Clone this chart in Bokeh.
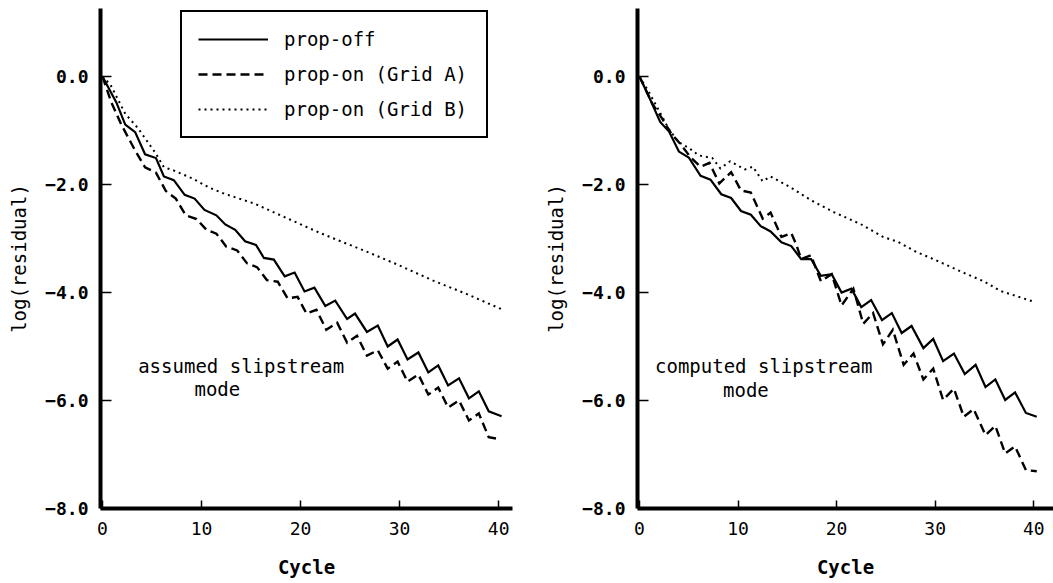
from bokeh.plotting import figure
from bokeh.layouts import row
from bokeh.models import (Range1d, FixedTicker, CustomJSTickFormatter, Legend,
                          LegendItem, Label)
from bokeh.embed import file_html
from bokeh.resources import INLINE

MONO = "DejaVu Sans Mono"

x_ticks = [0, 10, 20, 30, 40]
y_ticks = [-8, -6, -4, -2, 0]
series_labels = ["prop-off", "prop-on (Grid A)", "prop-on (Grid B)"]
panel_notes = [("assumed slipstream", "mode"), ("computed slipstream", "mode")]

# ---- left panel: assumed slipstream mode ----
left_off_cycle = [0, 1.4, 2.3, 3.3, 4.3, 5.4, 6.2, 7.2, 8.3, 9.3, 10.3, 11.5, 12.4, 13.4,
                  14.4, 15.5, 16.3, 17.3, 18.4, 19.4, 20.4, 21.4, 22.5, 23.5, 24.7, 25.5,
                  26.7, 27.8, 28.8, 29.8, 30.8, 31.9, 32.9, 33.9, 34.9, 36.0, 37.0, 38.0,
                  39.0, 40.3]
left_off_value = [0, -0.48, -0.89, -1.03, -1.44, -1.51, -1.85, -1.92, -2.19, -2.26, -2.47,
                  -2.57, -2.74, -2.84, -3.05, -3.12, -3.36, -3.39, -3.70, -3.63, -3.98,
                  -3.91, -4.25, -4.15, -4.49, -4.39, -4.73, -4.61, -5.00, -4.87, -5.24,
                  -5.11, -5.48, -5.35, -5.72, -5.59, -5.96, -5.83, -6.20, -6.29]

left_gridA_cycle = [0, 0.9, 1.9, 3.3, 4.3, 5.4, 6.4, 7.4, 8.4, 9.5, 10.5, 11.5, 12.5, 13.6,
                    14.6, 15.6, 16.6, 17.7, 18.7, 19.7, 20.6, 21.6, 22.6, 23.7, 24.7, 25.7,
                    26.7, 27.8, 28.8, 29.8, 30.8, 31.9, 32.9, 33.9, 34.9, 36.0, 37.0, 38.0,
                    39.0, 40.2]
left_gridA_value = [0, -0.48, -0.89, -1.37, -1.68, -1.78, -2.12, -2.26, -2.57, -2.64, -2.84,
                    -2.91, -3.15, -3.22, -3.46, -3.53, -3.77, -3.80, -4.11, -4.08, -4.39,
                    -4.32, -4.69, -4.56, -4.93, -4.80, -5.17, -5.07, -5.41, -5.28, -5.65,
                    -5.52, -5.89, -5.76, -6.13, -6.00, -6.37, -6.24, -6.68, -6.72]

left_gridB_cycle = [0, 0.8, 2.3, 3.6, 5.4, 6.2, 7.2, 9.1, 10.7, 12.3, 15.3, 18.7, 22.0,
                    26.9, 30.0, 33.4, 36.8, 40.3]
left_gridB_value = [0, -0.15, -0.69, -0.96, -1.43, -1.68, -1.74, -1.89, -2.05, -2.17,
                    -2.35, -2.63, -2.90, -3.26, -3.50, -3.78, -4.03, -4.31]

# ---- right panel: computed slipstream mode ----
right_off_cycle = [0, 1.1, 2.1, 3.0, 4.0, 5.0, 6.2, 7.2, 8.3, 9.3, 10.3, 11.3, 12.3, 13.3,
                   14.4, 15.4, 16.4, 17.4, 18.4, 19.5, 20.5, 21.5, 22.5, 23.5, 24.6, 25.6,
                   26.6, 27.6, 28.8, 29.8, 30.8, 31.9, 33.0, 34.1, 35.1, 36.1, 37.1, 38.1,
                   39.2, 40.3]
right_off_value = [0, -0.43, -0.84, -1.02, -1.39, -1.50, -1.84, -1.91, -2.18, -2.25, -2.49,
                   -2.56, -2.77, -2.87, -3.07, -3.14, -3.38, -3.38, -3.69, -3.66, -4.00,
                   -3.93, -4.27, -4.14, -4.51, -4.38, -4.75, -4.62, -5.03, -4.86, -5.27,
                   -5.13, -5.51, -5.34, -5.75, -5.61, -5.99, -5.85, -6.23, -6.30]

right_gridA_cycle = [0, 1.3, 2.3, 3.2, 4.2, 5.2, 6.2, 7.1, 8.1, 9.3, 10.3, 11.3, 12.5, 13.3,
                     14.4, 15.4, 15.9, 16.4, 17.4, 18.4, 19.5, 20.5, 21.7, 22.7, 23.7, 24.7,
                     25.7, 26.8, 27.8, 28.8, 29.8, 30.8, 31.9, 32.9, 33.9, 35.1, 36.1, 37.1,
                     38.1, 39.2, 40.3]
right_gridA_value = [0, -0.50, -0.78, -1.05, -1.26, -1.50, -1.67, -1.60, -1.98, -1.77, -2.11,
                     -2.15, -2.63, -2.52, -2.97, -2.90, -3.11, -3.38, -3.31, -3.79, -3.66,
                     -4.24, -3.93, -4.58, -4.38, -4.96, -4.69, -5.34, -5.13, -5.61, -5.41,
                     -5.99, -5.78, -6.30, -6.16, -6.64, -6.47, -6.98, -6.85, -7.29, -7.31]

right_gridB_cycle = [0, 1.0, 2.0, 3.0, 4.0, 5.0, 6.0, 7.4, 8.2, 9.2, 10.7, 11.5, 12.5, 13.3,
                     15.3, 17.4, 19.7, 22.4, 24.7, 26.2, 28.1, 29.8, 31.5, 33.2, 34.9, 36.6,
                     38.3, 40.0]
right_gridB_value = [0, -0.30, -0.64, -0.98, -1.22, -1.32, -1.46, -1.51, -1.70, -1.57, -1.72,
                     -1.67, -1.94, -1.85, -2.05, -2.29, -2.51, -2.73, -2.97, -3.06, -3.25,
                     -3.38, -3.52, -3.66, -3.79, -3.97, -4.07, -4.17]

note_positions = [((14.0, -5.37), (11.6, -5.78)), ((12.6, -5.37), (10.8, -5.80))]

STYLES = [dict(line_width=2.2, line_dash="solid"),
          dict(line_width=2.4, line_dash="9 5"),
          dict(line_width=2.0, line_dash="2 4")]

ytick_fmt = CustomJSTickFormatter(code="""
    return tick === 0 ? "0.0" : "\u2212" + Math.abs(tick).toFixed(1);
""")


def make_panel(width, b_left, b_right, x_end, series, notes, note_pos):
    p = figure(width=width, height=583, x_range=Range1d(-0.2, x_end),
               y_range=Range1d(-8, 1.26), output_backend="svg", toolbar_location=None,
               min_border_left=b_left, min_border_right=b_right, min_border_top=8,
               min_border_bottom=75)
    p.outline_line_color = None
    p.grid.visible = False
    p.background_fill_color = "white"
    p.border_fill_color = "white"

    xa = p.xaxis[0]
    xa.ticker = FixedTicker(ticks=x_ticks)
    xa.axis_line_width = 4
    xa.axis_line_color = "black"
    xa.major_tick_in = 8
    xa.major_tick_out = 0
    xa.major_tick_line_width = 1.5
    xa.major_tick_line_color = "black"
    xa.minor_tick_line_color = None
    xa.major_label_text_font = MONO
    xa.major_label_text_font_size = "18px"
    xa.major_label_text_color = "black"
    xa.major_label_standoff = 13
    xa.axis_label = "Cycle"
    xa.axis_label_text_font = MONO
    xa.axis_label_text_font_size = "19px"
    xa.axis_label_text_font_style = "bold"
    xa.axis_label_text_color = "black"
    xa.axis_label_standoff = 18

    ya = p.yaxis[0]
    ya.ticker = FixedTicker(ticks=y_ticks)
    ya.formatter = ytick_fmt
    ya.axis_line_width = 4
    ya.axis_line_color = "black"
    ya.major_tick_in = 11
    ya.major_tick_out = 0
    ya.major_tick_line_width = 1.5
    ya.major_tick_line_color = "black"
    ya.minor_tick_line_color = None
    ya.major_label_text_font = MONO
    ya.major_label_text_font_size = "18px"
    ya.major_label_text_font_style = "bold"
    ya.major_label_text_color = "black"
    ya.major_label_standoff = 12
    ya.axis_label = "log(residual)"
    ya.axis_label_text_font = MONO
    ya.axis_label_text_font_size = "19px"
    ya.axis_label_text_font_style = "normal"
    ya.axis_label_text_color = "black"
    ya.axis_label_standoff = 12

    renderers = []
    for (cx, cy), st in zip(series, STYLES):
        r = p.line(cx, cy, line_color="black", line_join="miter", **st)
        renderers.append(r)

    for txt, (lx, ly) in zip(notes, note_pos):
        p.add_layout(Label(x=lx, y=ly, text=txt, text_font=MONO, text_font_size="19px",
                           text_align="center", text_baseline="middle", text_color="black"))
    return p, renderers


p1, rs = make_panel(538, 100, 26, 41.4,
                    [(left_off_cycle, left_off_value), (left_gridA_cycle, left_gridA_value),
                     (left_gridB_cycle, left_gridB_value)],
                    panel_notes[0], note_positions[0])

legend = Legend(items=[LegendItem(label=lab, renderers=[r]) for lab, r in zip(series_labels, rs)],
                location=(80, 370))
legend.label_text_font = MONO
legend.label_text_font_size = "19px"
legend.label_text_color = "black"
legend.label_height = 22
legend.label_width = 186
legend.glyph_height = 22
legend.glyph_width = 70
legend.label_standoff = 16
legend.padding = 16
legend.spacing = 13
legend.margin = 0
legend.border_line_width = 2
legend.border_line_color = "black"
legend.border_line_alpha = 1
legend.background_fill_alpha = 1
p1.add_layout(legend)

p2, _ = make_panel(515, 99, 0, 42.0,
                   [(right_off_cycle, right_off_value), (right_gridA_cycle, right_gridA_value),
                    (right_gridB_cycle, right_gridB_value)],
                   panel_notes[1], note_positions[1])

layout = row(p1, p2)
open("out.html", "w").write(file_html(layout, INLINE))
